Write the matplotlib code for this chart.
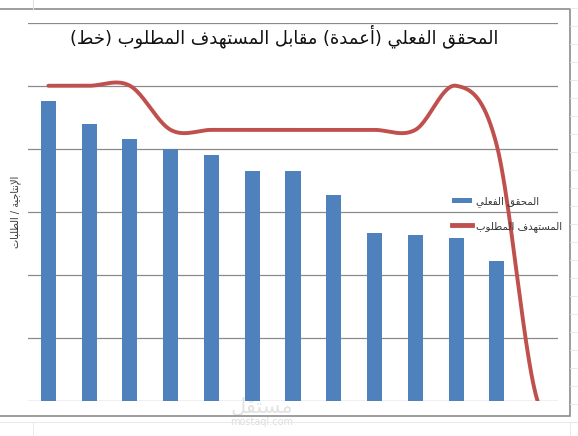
import matplotlib
matplotlib.use('Agg')
import matplotlib.pyplot as plt
import numpy as np
from matplotlib.lines import Line2D
from matplotlib.patches import Rectangle

plt.rcParams['font.family'] = ['DejaVu Sans']

# 数据
categories = list(range(1, 14))
actual = [95.2, 87.8, 83.1, 80.0, 78.1, 72.8, 72.8, 65.4, 53.2, 52.5, 51.8, 44.4]
target = [100, 100, 100, 86, 86, 86, 86, 86, 86, 86, 100, 81, 0]
y_ticks = [0, 20, 40, 60, 80, 100, 120]

title_txt = 'المحقق الفعلي (أعمدة) مقابل المستهدف المطلوب (خط)'
ylabel_txt = 'الإنتاجية / الطلبات'
label_actual = 'المحقق الفعلي'
label_target = 'المستهدف المطلوب'

BAR_COLOR = '#4F81BD'
LINE_COLOR = '#C0504D'
GRID_COLOR = '#8a8a8a'

# 阿拉伯字母连写形式: (独立, 词尾, 词首, 词中)
FORMS = {
    'ا': ('\uFE8D', '\uFE8E', None, None),
    'أ': ('\uFE83', '\uFE84', None, None),
    'إ': ('\uFE87', '\uFE88', None, None),
    'ب': ('\uFE8F', '\uFE90', '\uFE91', '\uFE92'),
    'ة': ('\uFE93', '\uFE94', None, None),
    'ت': ('\uFE95', '\uFE96', '\uFE97', '\uFE98'),
    'ج': ('\uFE9D', '\uFE9E', '\uFE9F', '\uFEA0'),
    'ح': ('\uFEA1', '\uFEA2', '\uFEA3', '\uFEA4'),
    'خ': ('\uFEA5', '\uFEA6', '\uFEA7', '\uFEA8'),
    'د': ('\uFEA9', '\uFEAA', None, None),
    'س': ('\uFEB1', '\uFEB2', '\uFEB3', '\uFEB4'),
    'ط': ('\uFEC1', '\uFEC2', '\uFEC3', '\uFEC4'),
    'ع': ('\uFEC9', '\uFECA', '\uFECB', '\uFECC'),
    'ف': ('\uFED1', '\uFED2', '\uFED3', '\uFED4'),
    'ق': ('\uFED5', '\uFED6', '\uFED7', '\uFED8'),
    'ل': ('\uFEDD', '\uFEDE', '\uFEDF', '\uFEE0'),
    'م': ('\uFEE1', '\uFEE2', '\uFEE3', '\uFEE4'),
    'ن': ('\uFEE5', '\uFEE6', '\uFEE7', '\uFEE8'),
    'ه': ('\uFEE9', '\uFEEA', '\uFEEB', '\uFEEC'),
    'و': ('\uFEED', '\uFEEE', None, None),
    'ي': ('\uFEF1', '\uFEF2', '\uFEF3', '\uFEF4'),
    'لا': ('\uFEFB', '\uFEFC', None, None),
    'لأ': ('\uFEF7', '\uFEF8', None, None),
    'لإ': ('\uFEF9', '\uFEFA', None, None),
}
MIRROR = {'(': ')', ')': '('}


def shape(text):
    tokens = []
    i = 0
    while i < len(text):
        if text[i] == 'ل' and text[i:i + 2] in FORMS and i + 1 < len(text) and text[i + 1] in 'اأإ':
            tokens.append(text[i:i + 2])
            i += 2
        else:
            tokens.append(text[i])
            i += 1
    out = []
    for k, t in enumerate(tokens):
        if t not in FORMS:
            out.append(MIRROR.get(t, t))
            continue
        prev = tokens[k - 1] if k > 0 else None
        nxt = tokens[k + 1] if k + 1 < len(tokens) else None
        jp = prev in FORMS and FORMS[prev][2] is not None
        jn = FORMS[t][2] is not None and nxt in FORMS
        f = FORMS[t]
        if jp and jn:
            out.append(f[3])
        elif jp:
            out.append(f[1])
        elif jn:
            out.append(f[2])
        else:
            out.append(f[0])
    return ''.join(reversed(out))


def smooth(xs, ys, n=40):
    # 平滑曲线 (Catmull-Rom)
    ys = np.asarray(ys, float)
    m = np.zeros_like(ys)
    m[1:-1] = (ys[2:] - ys[:-2]) / 2
    m[0] = (ys[1] - ys[0]) / 2
    m[-1] = (ys[-1] - ys[-2]) / 2
    X, Y = [], []
    for i in range(len(ys) - 1):
        t = np.linspace(0, 1, n)
        h00 = 2 * t**3 - 3 * t**2 + 1
        h10 = t**3 - 2 * t**2 + t
        h01 = -2 * t**3 + 3 * t**2
        h11 = t**3 - t**2
        X.append(xs[i] + t * (xs[i + 1] - xs[i]))
        Y.append(h00 * ys[i] + h10 * m[i] + h01 * ys[i + 1] + h11 * m[i + 1])
    return np.concatenate(X), np.concatenate(Y)


W, H = 578, 436


def fx(x):
    return x / W


def fy(y):
    return 1 - y / H


fig = plt.figure(figsize=(W / 100, H / 100), dpi=100)
fig.patch.set_facecolor('white')

# 背景表格线
for y in np.arange(8, H, 18):
    fig.add_artist(Line2D([fx(570), 1], [fy(y), fy(y)], color='#e6e6e6', lw=0.6))
fig.add_artist(Line2D([fx(33), fx(33)], [1, fy(9)], color='#e2e2e2', lw=0.8))
fig.add_artist(Line2D([0, 1], [fy(422), fy(422)], color='#e6e6e6', lw=0.6))
fig.add_artist(Line2D([fx(33), fx(33)], [fy(422), 0], color='#e6e6e6', lw=0.6))
fig.add_artist(Line2D([fx(570), fx(570)], [fy(422), 0], color='#e6e6e6', lw=0.6))

# 图表外框
fig.add_artist(Rectangle((fx(-5), fy(416)), fx(575), (416 - 9) / H,
                         transform=fig.transFigure, fill=False,
                         edgecolor='#8c8c8c', lw=1.2))

ax = fig.add_axes([fx(28), fy(401), fx(558 - 28), (401 - 22.7) / H])
ax.set_facecolor('none')

x = np.arange(len(categories))
bars = ax.bar(x[:len(actual)], actual, width=0.37, color=BAR_COLOR, zorder=2)
sx, sy = smooth(x, target)
line, = ax.plot(sx, sy, color=LINE_COLOR, lw=2.8, solid_capstyle='round', zorder=3)

ax.set_xlim(-0.5, len(categories) - 0.5)
ax.set_ylim(0, 120)
ax.set_yticks(y_ticks)
ax.set_xticks([])
ax.tick_params(left=False, labelleft=False)
ax.grid(True, axis='y', color=GRID_COLOR, lw=0.9)
ax.set_axisbelow(True)
for s in ax.spines.values():
    s.set_visible(False)

fig.text(fx(284), fy(36), shape(title_txt), ha='center', va='center',
         fontsize=12.9, color='#111111')
fig.text(fx(16), fy(212), shape(ylabel_txt), ha='center', va='center',
         rotation=90, fontsize=7, color='#333333')

leg_line = Line2D([], [], color=LINE_COLOR, lw=3.5)
ax.legend([bars, leg_line], [shape(label_actual), shape(label_target)],
          loc='upper left', bbox_to_anchor=(fx(452), fy(196)),
          bbox_transform=fig.transFigure, frameon=False, fontsize=7.3,
          handlelength=2.0, handleheight=0.5, handletextpad=0.35,
          labelspacing=1.35, borderpad=0, borderaxespad=0, labelcolor='#333333')

# 水印
fig.text(fx(262), fy(407), shape('مستقل'), ha='center', va='center',
         fontsize=15, color='#e3e3e3', zorder=0)
fig.text(fx(262), fy(422), 'mostaql.com', ha='center', va='center',
         fontsize=7, color='#dddddd', zorder=0)

fig.savefig('out.png', dpi=100)
